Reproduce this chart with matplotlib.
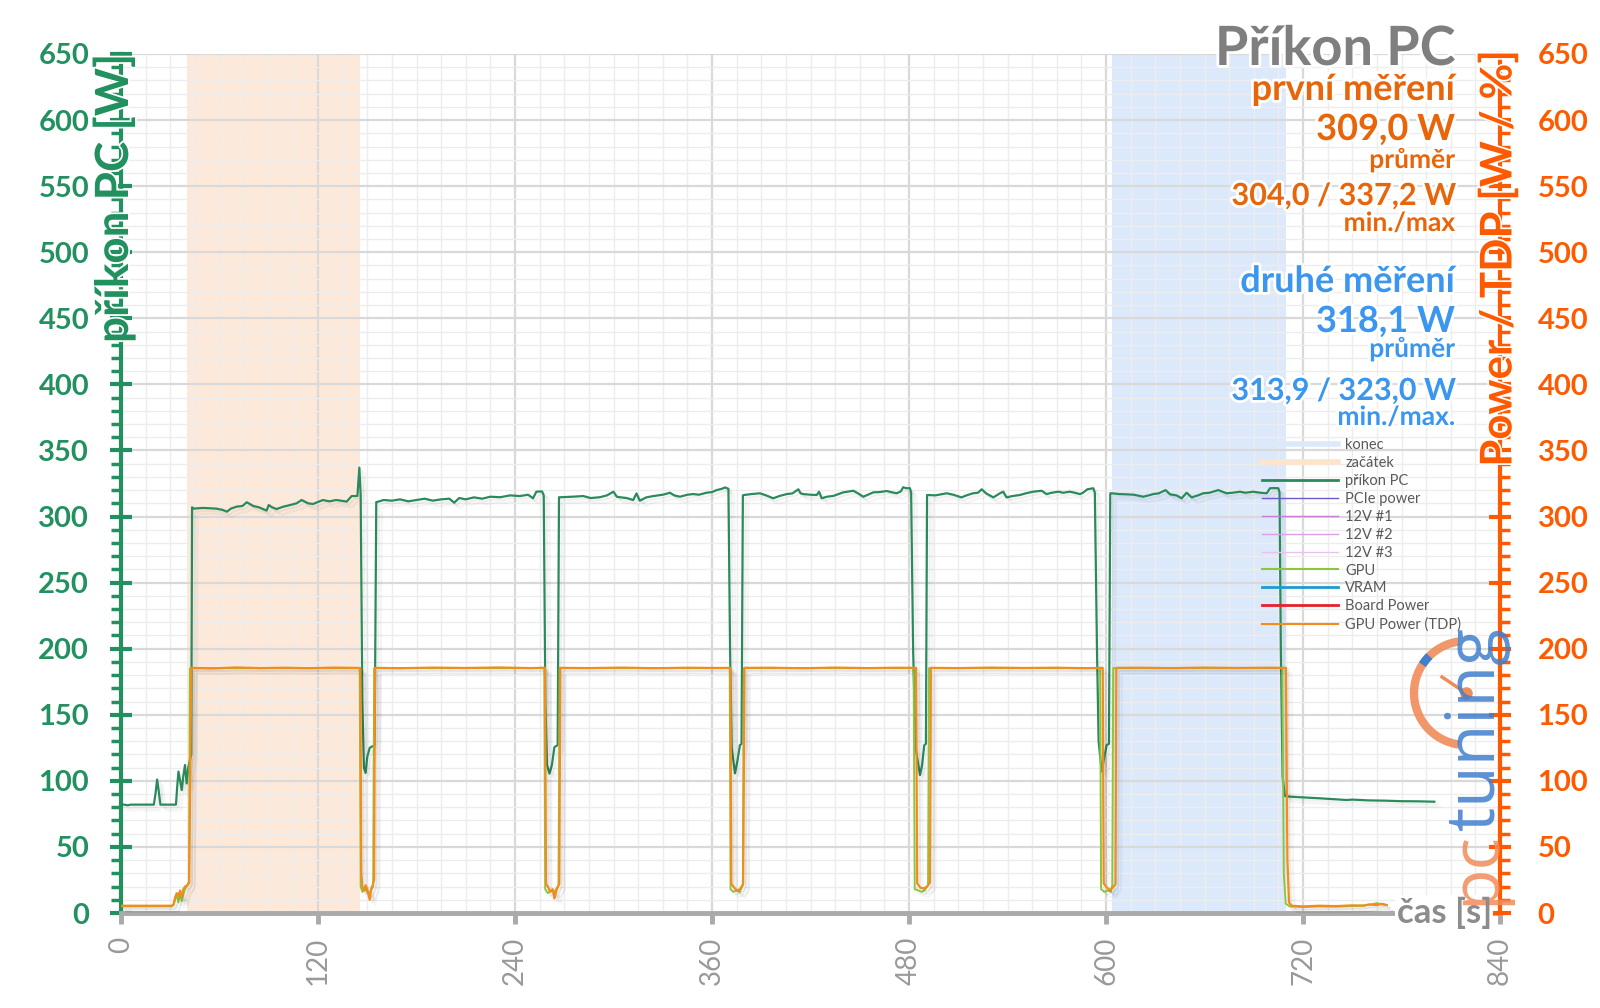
import numpy as np
import matplotlib
matplotlib.use('Agg')
import matplotlib.pyplot as plt
import matplotlib.patheffects as pe
from matplotlib.lines import Line2D
from matplotlib.patches import Arc
from matplotlib.ticker import MultipleLocator

plt.rcParams['font.family'] = ['Lato', 'DejaVu Sans']

W, H = 1600, 1008

# --- data ------------------------------------------------------------------
# příkon PC [W] (whole system, wall meter)
pc_t = [0, 2, 4, 6, 10, 14, 18, 20, 21, 22, 23, 24, 26, 30, 33.5, 34.2, 35, 36, 37, 38, 39, 40, 41, 42, 42.8, 43.3,
        44, 50, 58, 62, 64.5, 67, 70.5, 74, 76.6, 80.6, 84, 88.7, 90, 92, 94.8, 99, 103, 107, 110, 114, 117, 120,
        123, 127, 131, 134, 137.5, 140.5, 144, 145.2, 146, 147, 148, 149, 150, 151.5, 153, 154.5, 155.5,
        156, 160, 165, 170, 175, 180, 185, 190, 195, 200, 203, 206, 210, 215, 220, 225, 231, 237, 243, 248, 251,
        253, 256.5, 257.5, 258.5, 259.5, 261, 262.5, 264, 266, 266.8,
        268, 275, 281.6, 286, 291.7, 296, 300, 302, 304, 308, 312, 314, 316, 320, 324.3, 330, 334.4, 337, 340.5,
        345, 348.6, 352, 356.7, 360, 362.8, 366, 368, 370, 371, 372, 374, 375.5, 377, 378, 378.8,
        379.5, 384, 389.2, 393, 397.3, 401, 405.5, 409, 412.6, 414, 415.6, 420, 423.8, 425.2, 426.8, 430, 433.9,
        437, 440, 446.1, 449, 452.2, 455, 458.3, 462, 466.4, 469, 472.5, 475, 476.5, 478, 480.6, 481.3,
        482.5, 484, 486.7, 488, 489.3, 490.3, 491,
        491.5, 496, 503, 507, 512, 515, 519, 522, 524.3, 527, 531.4, 535.4, 537.4, 539.4, 543, 547.6, 551, 555.7,
        560.8, 563.8, 567, 571, 574, 578, 581, 584.2, 586, 588.6, 590.5, 592.3, 593.2,
        594.5, 595.5, 597.4, 599, 600.4, 601.8, 602.6,
        603.4, 608, 612.6, 617, 622.7, 626, 628.8, 632, 636.3, 639, 643, 646.1, 649.1, 652.2, 656, 659.3, 663,
        668.4, 673.5, 677, 681.6, 685, 689.7, 694, 697.9, 699.9, 702, 705, 705.7,
        706.5, 707.6, 709, 712.5, 720, 730, 740, 746.6, 750, 760, 770, 780, 790, 800]
pc_w = [82, 82, 81.5, 82, 82, 82, 82, 82, 90, 101, 92, 82, 82, 82, 82, 95, 107, 100, 93, 104, 112, 98, 110, 116, 120, 307,
        306, 306.5, 306, 305, 303.7, 306, 307.5, 308, 310.8, 308, 307, 304.5, 308.7, 307, 305.7, 307.5, 308.7, 310,
        312.5, 310, 309.5, 311, 312.5, 311.5, 312.5, 312, 311.3, 315.5, 315.5, 337, 316, 160, 110, 106, 118, 125,
        126, 127, 311,
        311, 312.5, 312, 313, 311.5, 312.5, 313.5, 312, 313, 313.5, 310.5, 314, 313, 314.5, 313.5, 315, 314.6, 316,
        315.5, 316.5, 313.8, 318.8, 319, 316, 160, 112, 105.5, 112, 125.5, 127, 314.6,
        314.6, 315, 315.5, 314, 314.6, 316, 318.8, 315, 314.6, 314, 312.5, 317.5, 312, 314.5, 315.5, 316.5, 318, 316,
        315, 316.5, 317, 316.5, 318, 318.5, 320, 321, 322, 321, 200, 125, 105.7, 115, 127, 128, 316,
        316.3, 317, 317.6, 316, 313.8, 315.5, 317, 317.5, 320.6, 317.5, 317, 316.5, 316.3, 318.8, 313.8, 315, 315.6,
        317, 318.3, 319.5, 317.5, 315, 316.5, 318.3, 318.5, 319.3, 318.5, 317.6, 319, 322.2, 321.5, 321.4, 318,
        200, 125, 104.4, 112, 127, 128, 316.3,
        316.3, 316, 317.6, 316.5, 314.5, 316, 317.6, 318, 320.6, 317.5, 314.5, 317.6, 318.8, 314.5, 315.5, 316.3,
        317.5, 318.8, 319.5, 317, 318, 318.8, 318, 318.8, 318, 317, 318, 320.6, 321, 321.4, 318,
        200, 130, 107, 118, 127, 128, 317.6,
        317.6, 317, 316.8, 316.5, 315, 316, 317, 317.5, 320, 316.8, 316, 313.8, 318, 314.5, 316, 317.6, 318,
        320, 317.6, 318, 318.8, 318, 318.8, 318, 317.6, 321.4, 321.5, 321.4, 318,
        200, 103, 88.5, 88, 87.5, 86.8, 86, 85.5, 85.8, 85.2, 85, 84.6, 84.5, 84.2]

# GPU Power (TDP) [W]
tdp_t = [0, 10, 20, 31, 32, 33, 34, 35, 36, 37, 38, 39, 40.5, 41.5, 42.3, 42.8,
         55, 70, 85, 100, 115, 130, 145.8,
         146.4, 147, 148, 149, 150, 151.5, 152.5, 153, 154.2, 154.7,
         170, 190, 210, 230, 250, 258.3,
         258.9, 260, 261.5, 263, 264, 265.5, 267, 267.6,
         285, 305, 325, 345, 362, 371.2,
         371.8, 373, 375, 377, 379, 379.8,
         395, 415, 435, 455, 472, 484.3,
         485, 487, 489, 491, 492.8, 493.3,
         510, 530, 550, 570, 588, 598,
         598.6, 600, 602, 604, 605.8, 606.3,
         620, 640, 660, 680, 698, 709.6,
         710.5, 711.5, 713, 720, 730, 740, 750, 757, 760, 765, 768, 771]
tdp_w = [5.5, 5.5, 5.5, 5.5, 6.5, 12, 15, 13, 17, 12, 18, 20, 21, 23, 120, 185.5,
         185, 185.8, 185.3, 185.6, 185.2, 185.7, 185.4,
         30, 20, 17, 21, 18, 10, 19, 20, 25, 185.5,
         185.2, 185.7, 185.4, 185.8, 185.3, 185.6,
         22, 20, 16, 18, 11, 18, 22, 185.5,
         185.3, 185.7, 185.2, 185.6, 185.4, 185.5,
         22, 20, 17, 18, 22, 185.5,
         185.6, 185.2, 185.7, 185.3, 185.6, 185.5,
         22.5, 19, 18.7, 20, 23, 185.5,
         185.3, 185.7, 185.4, 185.6, 185.2, 185.5,
         22.5, 20, 17.4, 19, 22, 185.5,
         185.6, 185.3, 185.7, 185.4, 185.6, 185.5,
         40, 8, 5.5, 5, 5.5, 5.2, 5.8, 5.5, 6.5, 6, 7, 6]

# GPU [W]
gpu_t = [0, 10, 20, 31, 32, 33, 34, 35, 36, 37, 38, 39, 40, 41.5, 42, 42.5,
         145.4, 146, 147, 149, 151, 153.6, 154.2,
         257.8, 258.4, 260, 262, 264, 266.5, 267.2,
         370.8, 371.3, 373, 375, 377, 378.8, 379.4,
         482.8, 483.5, 486, 488, 490, 491.6, 492.2,
         596.4, 597, 599, 601, 603, 603.8, 604.4,
         707.4, 708.3, 709.5, 712, 720, 730, 740, 750, 760, 765, 768, 771]
gpu_w = [5, 5, 5, 5, 6, 10, 14, 8, 15, 9, 14, 18, 20, 24, 185, 185.3,
         185.3, 20, 16, 18, 14, 20, 185.3,
         185.3, 18, 15, 17, 16, 21, 185.3,
         185.3, 18, 16, 17, 16, 21, 185.3,
         185.3, 18, 17, 16, 18, 21, 185.3,
         185.3, 18, 16, 17, 16, 21, 185.3,
         185.3, 30, 7, 5, 4.5, 5, 4.8, 5.2, 6, 7.5, 6.5, 6]

zacatek = (40.2, 145.6)
konec = (603.6, 709.6)

x_ticks = [0, 120, 240, 360, 480, 600, 720, 840]
y_ticks = list(range(0, 651, 50))

stat_lines = [
    # text, size, color, baseline y (px)
    ('první měření', 26, '#e8650a', 100),
    ('309,0 W', 26, '#e8650a', 140),
    ('průměr', 19, '#e8650a', 168),
    ('304,0 / 337,2 W', 22, '#e8650a', 205),
    ('min./max', 19, '#e8650a', 231),
    ('druhé měření', 26, '#3a96ee', 292),
    ('318,1 W', 26, '#3a96ee', 332),
    ('průměr', 19, '#3a96ee', 357),
    ('313,9 / 323,0 W', 22, '#3a96ee', 400),
    ('min./max.', 19, '#3a96ee', 425),
]

green = '#23915f'
red_orange = '#ff5a00'
c_pc = '#2a8a5c'
c_tdp = '#f28c1c'
c_gpu = '#8cc63f'


def fx(x):
    return x / W


def fy(y):
    return 1 - y / H


fig = plt.figure(figsize=(16, 10.08), dpi=100)
ax = fig.add_axes([fx(121), fy(913), (1500 - 121) / W, (913 - 54) / H])

ax.axvspan(*konec, color='#dce9fa', lw=0, zorder=0.5)
ax.axvspan(*zacatek, color='#fde9d9', lw=0, zorder=0.5)

shadow = [pe.SimpleLineShadow(offset=(4, -4), alpha=0.04, shadow_color='k'),
          pe.SimpleLineShadow(offset=(2, -2), alpha=0.06, shadow_color='k'),
          pe.Normal()]
ax.plot(pc_t, pc_w, color=c_pc, lw=1.6, path_effects=shadow, zorder=3)
ax.plot(gpu_t, gpu_w, color=c_gpu, lw=1.4, path_effects=shadow, zorder=3)
ax.plot(tdp_t, tdp_w, color=c_tdp, lw=1.6, path_effects=shadow, zorder=3)

ax.set_xlim(0, 840)
ax.set_ylim(0, 650)

ax.xaxis.set_minor_locator(MultipleLocator(15))
ax.yaxis.set_minor_locator(MultipleLocator(10))
ax.grid(which='major', color='#d9d9d9', lw=1.6)
ax.grid(which='minor', color='#ededed', lw=1.0)

for s in ('top', 'right'):
    ax.spines[s].set_visible(False)
ax.spines['left'].set_color(green)
ax.spines['left'].set_linewidth(3)
ax.spines['bottom'].set_color('#aaaaaa')
ax.spines['bottom'].set_linewidth(3.5)

ax.set_xticks(x_ticks)
ax.set_xticklabels([str(v) for v in x_ticks], rotation=90, color='#999999', fontsize=20)
ax.tick_params(axis='x', which='major', length=8, width=3.5, color='#aaaaaa', pad=9)
ax.tick_params(axis='x', which='minor', length=0)

ax.set_yticks(y_ticks)
ax.set_yticklabels([str(v) for v in y_ticks], fontweight='bold', color=green, fontsize=21)
ax.tick_params(axis='y', which='major', direction='inout', length=16, width=3, color=green, pad=15)
ax.tick_params(axis='y', which='minor', direction='out', length=7, width=2.5, color=green)

ax2 = ax.twinx()
ax2.set_ylim(0, 650)
for s in ('top', 'left', 'bottom'):
    ax2.spines[s].set_visible(False)
ax2.spines['right'].set_color(red_orange)
ax2.spines['right'].set_linewidth(3)
ax2.set_yticks(y_ticks)
ax2.set_yticklabels([str(v) for v in y_ticks], fontweight='bold', color=red_orange, fontsize=21)
ax2.yaxis.set_minor_locator(MultipleLocator(10))
ax2.tick_params(axis='y', which='major', direction='inout', length=16, width=3, color=red_orange, pad=19)
ax2.tick_params(axis='y', which='minor', direction='out', length=7, width=2.5, color=red_orange)

halo = [pe.withStroke(linewidth=4, foreground='white')]
thin_halo = [pe.withStroke(linewidth=2.5, foreground='white')]

fig.text(fx(114), fy(54), 'příkon PC [W]', rotation=90, ha='center', va='top',
         fontsize=33, fontweight='bold', color=green, path_effects=thin_halo)
fig.text(fx(1498), fy(50), 'Power / TDP [W / %]', rotation=90, ha='center', va='top',
         fontsize=31.5, fontweight='bold', color=red_orange, path_effects=thin_halo)

# white patch under the x-axis title (hides the axis line), logo, then the title itself
xlab = dict(ha='right', va='center', fontsize=25, fontweight='bold')
fig.text(fx(1492), fy(913), 'čas [s]', color='none', zorder=4,
         bbox=dict(facecolor='white', edgecolor='none', pad=1), **xlab)

# pctuning watermark
logo_orange = '#f08c5a'
logo_blue = '#3f7fcc'
fig.text(fx(1494), fy(905), 'pc', rotation=90, rotation_mode='anchor', ha='left',
         va='baseline', fontsize=49, color=logo_orange, alpha=0.85, family='Open Sans', zorder=4.5)
fig.text(fx(1494), fy(830), 'tuning', rotation=90, rotation_mode='anchor', ha='left',
         va='baseline', fontsize=49, color=logo_blue, alpha=0.85, family='Open Sans', zorder=4.5)
cx, cy, r = 1466, 693, 52
fig.add_artist(Arc((fx(cx), fy(cy)), 2 * r / W, 2 * r / H, theta1=95, theta2=265,
                   transform=fig.transFigure, color=logo_orange, lw=6, alpha=0.9))
fig.add_artist(Arc((fx(cx), fy(cy)), 2 * r / W, 2 * r / H, theta1=122, theta2=134,
                   transform=fig.transFigure, color=logo_blue, lw=6))
fig.add_artist(Line2D([fx(cx), fx(1442)], [fy(cy), fy(677)], transform=fig.transFigure,
                      color=logo_orange, lw=2.5))
fig.add_artist(Line2D([fx(cx)], [fy(cy)], transform=fig.transFigure, marker='o',
                      markersize=8, color=logo_orange))

fig.text(fx(1492), fy(913), 'čas [s]', color='#8c8c8c', zorder=5, **xlab)

fig.text(fx(1455), fy(65), 'Příkon PC', ha='right', va='baseline', fontsize=39,
         fontweight='bold', color='#7f7f7f', path_effects=halo)
for txt, size, col, base in stat_lines:
    fig.text(fx(1455), fy(base), txt, ha='right', va='baseline', fontsize=size,
             fontweight='bold', color=col, path_effects=halo)

# legend (series without data are legend-only)
handles = [
    Line2D([], [], color='#dce9fa', lw=4),
    Line2D([], [], color='#fde4cc', lw=4),
    Line2D([], [], color=c_pc, lw=2),
    Line2D([], [], color='#6a5acd', lw=1),
    Line2D([], [], color='#c77fd6', lw=1),
    Line2D([], [], color='#d9a0e3', lw=1),
    Line2D([], [], color='#e6c3ef', lw=1),
    Line2D([], [], color=c_gpu, lw=1.5),
    Line2D([], [], color='#1b9ccf', lw=2),
    Line2D([], [], color='#e8202a', lw=2),
    Line2D([], [], color=c_tdp, lw=1.5),
]
labels = ['konec', 'začátek', 'příkon PC', 'PCIe power', '12V #1', '12V #2', '12V #3',
          'GPU', 'VRAM', 'Board Power', 'GPU Power (TDP)']
leg = ax.legend(handles, labels, loc='upper left', bbox_to_anchor=(fx(1262), fy(438)),
                bbox_transform=fig.transFigure, frameon=False, fontsize=10.5,
                handlelength=5.2, handletextpad=0.5, labelspacing=0.27,
                borderpad=0, borderaxespad=0)
for t in leg.get_texts():
    t.set_color('#595959')

fig.savefig('out.png', dpi=100)
